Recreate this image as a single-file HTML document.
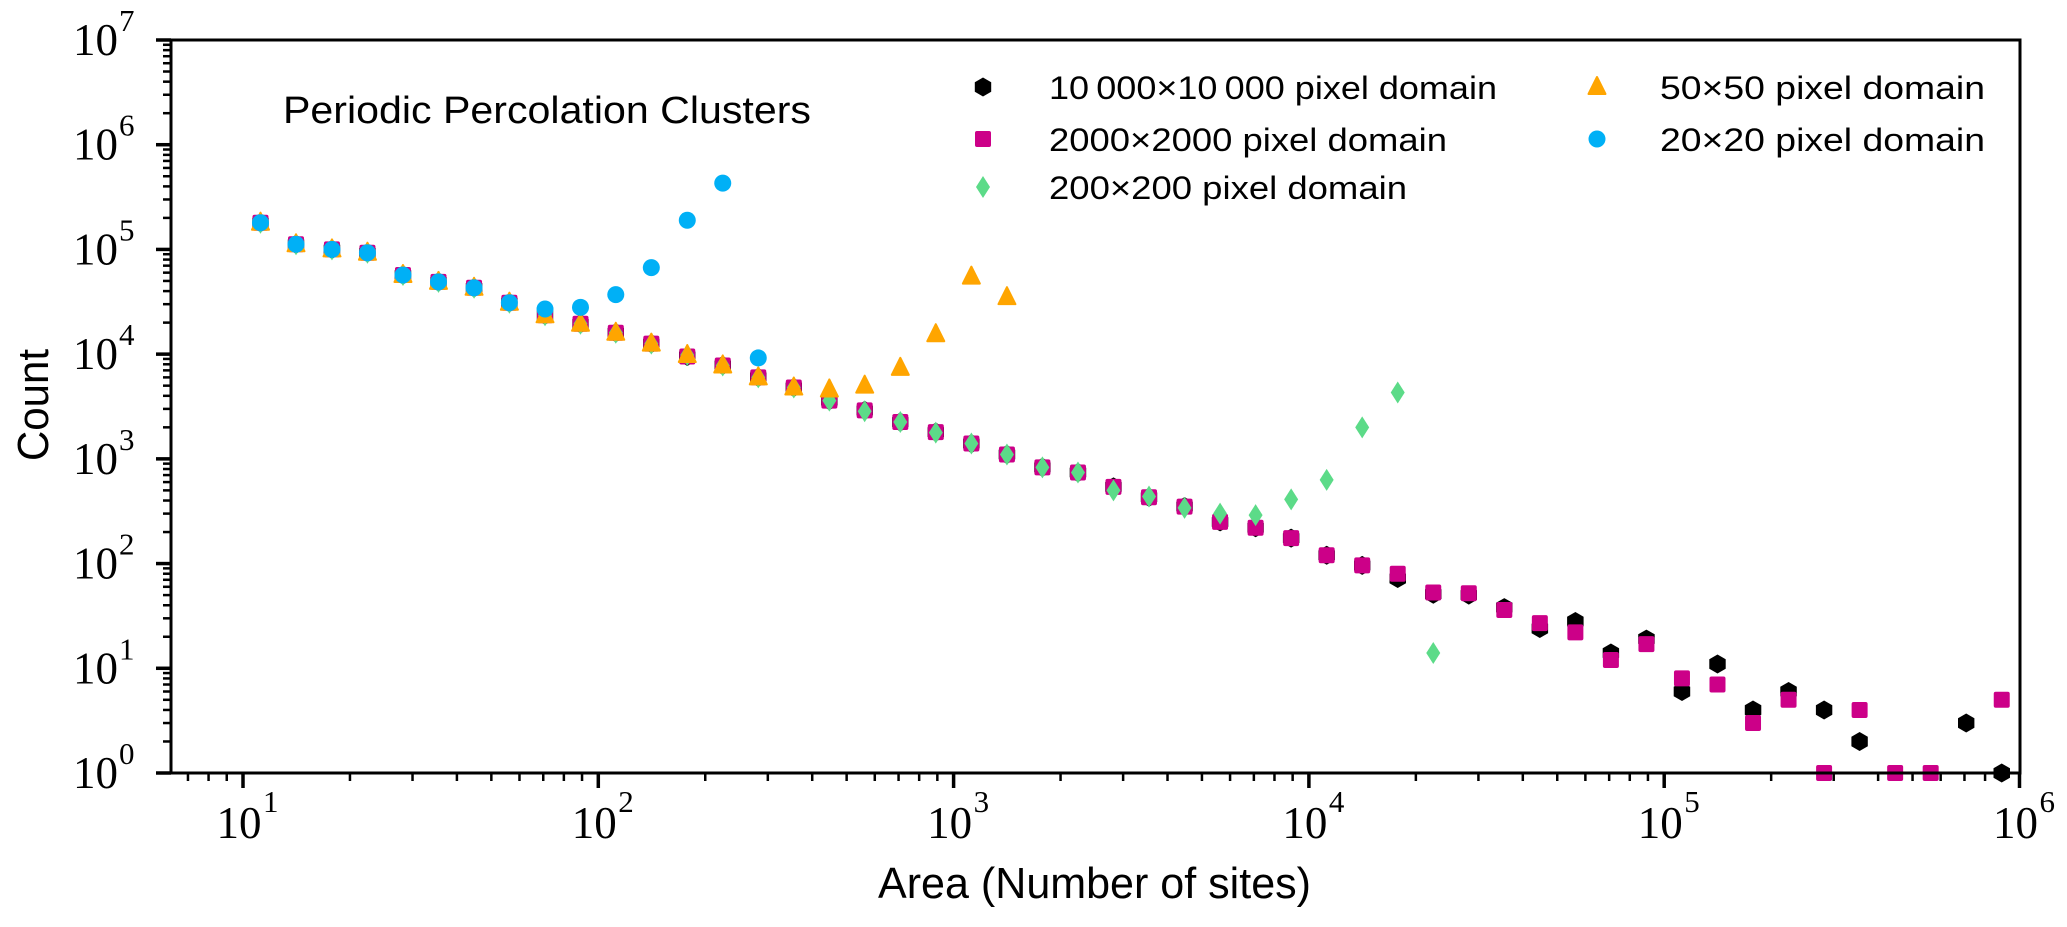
<!DOCTYPE html>
<html><head><meta charset="utf-8"><style>
html,body{margin:0;padding:0;background:#fff;}
svg{display:block;}
</style></head><body>
<svg id="chart" width="2067" height="927" viewBox="0 0 2067 927" xmlns="http://www.w3.org/2000/svg">
<rect x="0" y="0" width="2067" height="927" fill="#fff"/>
<g id="ticks"></g>
<g id="marks"></g>
<rect x="171" y="40" width="1849" height="733" fill="none" stroke="#000" stroke-width="3"/>
<text x="283" y="123" font-family="Liberation Sans, sans-serif" font-size="38" textLength="528" lengthAdjust="spacingAndGlyphs">Periodic Percolation Clusters</text>
<text x="878" y="898" font-family="Liberation Sans, sans-serif" font-size="44" textLength="433" lengthAdjust="spacingAndGlyphs">Area (Number of sites)</text>
<text transform="translate(48,405) rotate(-90)" text-anchor="middle" font-family="Liberation Sans, sans-serif" font-size="44" textLength="112" lengthAdjust="spacingAndGlyphs">Count</text>
<g id="legend"></g>
</svg>
<script>
const xs = [11.2,14.1,17.8,22.4,28.2,35.5,44.7,56.2,70.8,89.1,112,141,178,224,282,355,447,562,708,891,1122,1413,1778,2239,2818,3548,4467,5623,7079,8913,11220,14125,17783,22387,28184,35481,44668,56234,70795,89125,112202,141254,177828,223872,281838,354813,446684,562341,707946,891251];
const s10000 = [180000,112000,100000,93000,57000,49000,43000,31000,23500,19500,16000,12600,9500,7800,6000,4800,3600,2900,2250,1800,1400,1100,830,740,540,430,350,250,220,175,120,96,72,51,50,38,24,28,14,19,6,11,4,6,4,2,null,null,3,1];
const s2000 = [180000,112000,100000,93000,57000,49000,43000,31000,23500,19500,16000,12600,9500,7800,6000,4800,3600,2900,2250,1800,1400,1100,830,740,540,430,350,250,220,175,120,96,80,53,52,36,27,22,12,17,8,7,3,5,1,4,1,1,null,5];
const s200 = [180000,112000,100000,93000,57000,49000,43000,31000,23500,19500,16000,12600,9800,7800,6000,4800,3600,2850,2250,1780,1400,1100,830,740,500,437,340,300,290,410,630,2000,4300,14];
const s50 = [180000,112000,100000,93000,57000,49000,43000,31000,23500,19500,16000,12600,9800,7800,6000,4800,4600,5000,7400,15500,55000,35000];
const s20 = [180000,112000,100000,93000,57000,49000,43000,31000,27000,28000,37000,67000,190000,430000,9200];
const xTickExps = [1,2,3,4,5,6];
const yTickExps = [0,1,2,3,4,5,6,7];

const NS="http://www.w3.org/2000/svg";
const X0=171,X1=2020,Y0=773,Y1=40;
const XA=243,XD=355.3;
const xLogMin=1-(XA-X0)/XD, xLogMax=1+(X1-XA)/XD;
function sx(v){return XA+(Math.log10(v)-1)*XD;}
function sy(v){return Y0-(Math.log10(v)-0)*(Y0-Y1)/7;}
function mk(tag,attrs,parent){const e=document.createElementNS(NS,tag);for(const k in attrs)e.setAttribute(k,attrs[k]);parent.appendChild(e);return e;}

const ticks=document.getElementById('ticks');
for(let e=0;e<=6;e++){for(let m=1;m<10;m++){const v=m*Math.pow(10,e);const lg=Math.log10(v);if(lg<xLogMin-1e-9||lg>xLogMax+1e-9)continue;const x=sx(v);
const t=mk('line',{x1:x,x2:x,y1:Y0,y2:Y0+(m===1?15:8),stroke:'#000','stroke-width':(m===1?3.5:2.5)},ticks);

}}
xTickExps.forEach(e=>{const x=sx(Math.pow(10,e));
const t=mk('text',{x:x-4,y:838,'text-anchor':'middle','font-family':'Liberation Serif, serif','font-size':'45'},ticks);


t.textContent='10';
const s=mk('text',{x:x+20,y:812,'font-family':'Liberation Serif, serif','font-size':'31'},ticks);


s.textContent=String(e);});
for(let e=0;e<7;e++){for(let m=1;m<=10;m++){if(m===10&&e<6)continue;const v=m*Math.pow(10,e);const y=sy(v);const major=(m===1||m===10);
const t=mk('line',{x1:X0,x2:X0-(major?15:8),y1:y,y2:y,stroke:'#000','stroke-width':(major?3.5:2.5)},ticks);

}}
yTickExps.forEach(e=>{const y=sy(Math.pow(10,e));
const t=mk('text',{x:118,y:y+15,'text-anchor':'end','font-family':'Liberation Serif, serif','font-size':'45'},ticks);


t.textContent='10';
const s=mk('text',{x:119,y:y-9,'font-family':'Liberation Serif, serif','font-size':'31'},ticks);


s.textContent=String(e);});

function shape(type,x,y,color,parent){
 let e;
 if(type==='hex'){const r=9.5;let p=[];for(let i=0;i<6;i++){const a=Math.PI/2+i*Math.PI/3;p.push((x+r*Math.cos(a)).toFixed(1)+','+(y-r*Math.sin(a)).toFixed(1));}e=mk('polygon',{points:p.join(' '),fill:color},parent);}
 else if(type==='sq'){e=mk('rect',{x:x-8,y:y-8,width:16,height:16,rx:2,fill:color},parent);}
 else if(type==='dia'){e=mk('polygon',{points:`${x},${y-11} ${x+7},${y} ${x},${y+11} ${x-7},${y}`,fill:color},parent);}
 else if(type==='tri'){e=mk('polygon',{points:`${x},${y-10} ${x+8.5},${y+7} ${x-8.5},${y+7}`,fill:color,stroke:color,'stroke-width':2,'stroke-linejoin':'round'},parent);}
 else {e=mk('circle',{cx:x,cy:y,r:8.5,fill:color},parent);}
 return e;
}
const marks=document.getElementById('marks');
const series=[
 {vals:s10000,type:'hex',color:'#000000',name:'10000'},
 {vals:s2000,type:'sq',color:'#cc0088',name:'2000'},
 {vals:s200,type:'dia',color:'#5cdb88',name:'200'},
 {vals:s50,type:'tri',color:'#ffa500',name:'50'},
 {vals:s20,type:'circ',color:'#00b0f6',name:'20'}
];
series.forEach(s=>{s.vals.forEach((v,i)=>{if(v==null)return;
 const e=shape(s.type,sx(xs[i]),sy(v),s.color,marks);
 
 });});

const legend=document.getElementById('legend');
const leg=[
 {t:'10\u2009000\u00d710\u2009000 pixel domain',type:'hex',color:'#000000',mx:983,tx:1049,y:87,w:448},
 {t:'2000\u00d72000 pixel domain',type:'sq',color:'#cc0088',mx:983,tx:1049,y:139,w:398},
 {t:'200\u00d7200 pixel domain',type:'dia',color:'#5cdb88',mx:983,tx:1049,y:187,w:358},
 {t:'50\u00d750 pixel domain',type:'tri',color:'#ffa500',mx:1597,tx:1660,y:87,w:325},
 {t:'20\u00d720 pixel domain',type:'circ',color:'#00b0f6',mx:1597,tx:1660,y:139,w:325}
];
leg.forEach(l=>{
 const m=shape(l.type,l.mx,l.y,l.color,legend);
 
 
 const t=mk('text',{x:l.tx,y:l.y+12,'font-family':'Liberation Sans, sans-serif','font-size':'32',textLength:l.w,lengthAdjust:'spacingAndGlyphs'},legend);
 
 
 t.textContent=l.t;
});
</script>
</body></html>
